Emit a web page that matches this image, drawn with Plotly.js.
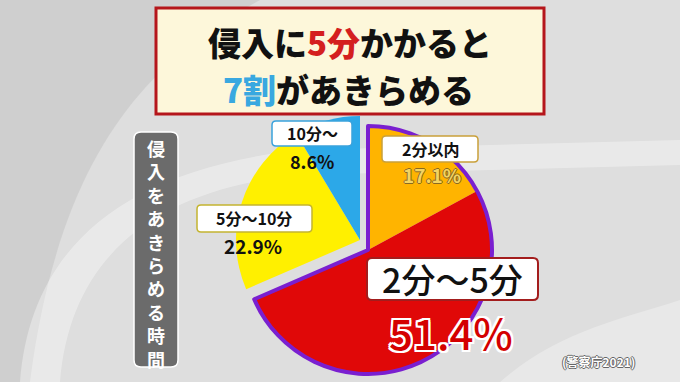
<!DOCTYPE html>
<html>
<head>
<meta charset="utf-8">
<script src="https://cdn.plot.ly/plotly-3.0.1.min.js"></script>
<style>
  html, body { margin: 0; padding: 0; background: #dedede; }
  #chart { width: 680px; height: 382px; }
</style>
</head>
<body>
<div id="chart"></div>
<script>
// ---- data ----
const categories = ['2分以内', '2分～5分', '5分～10分', '10分～'];
const values = [17.1, 51.4, 22.9, 8.6];
const percentLabels = ['17.1%', '51.4%', '22.9%', '8.6%'];
const titleLine1 = ['侵入に', '5分', 'かかると'];
const titleLine2 = ['7割', 'があきらめる'];
const sideLabel = '侵入をあきらめる時間';
const sourceLabel = '(警察庁2021)';

// ---- styles ----
const W = 680, H = 382;
const sliceColors = ['#ffb400', '#e00808', '#fff000', '#2ca8e8'];
const purple = '#7a1fd0';
const clear = 'rgba(0,0,0,0)';
const JP = '"Noto Sans CJK JP", "Noto Sans", sans-serif';

const X = v => v / W;
const Y = v => 1 - v / H;
function dom(cx, cy, r) {
  return { x: [X(cx - r), X(cx + r)], y: [Y(cy + r), Y(cy - r)] };
}
function rrect(x0, y0, x1, y1, r) {
  return 'M' + X(x0 + r) + ',' + Y(y0) +
    ' L' + X(x1 - r) + ',' + Y(y0) +
    ' Q' + X(x1) + ',' + Y(y0) + ' ' + X(x1) + ',' + Y(y0 + r) +
    ' L' + X(x1) + ',' + Y(y1 - r) +
    ' Q' + X(x1) + ',' + Y(y1) + ' ' + X(x1 - r) + ',' + Y(y1) +
    ' L' + X(x0 + r) + ',' + Y(y1) +
    ' Q' + X(x0) + ',' + Y(y1) + ' ' + X(x0) + ',' + Y(y1 - r) +
    ' L' + X(x0) + ',' + Y(y0 + r) +
    ' Q' + X(x0) + ',' + Y(y0) + ' ' + X(x0 + r) + ',' + Y(y0) + ' Z';
}
function pathPx(cmds) {
  return cmds.map(c => {
    const L = c[0]; const pts = [];
    for (let i = 1; i < c.length; i += 2) pts.push(X(c[i]) + ',' + Y(c[i + 1]));
    return L + pts.join(' ');
  }).join(' ') + ' Z';
}

const R = 124;
const centerRest = [360, 240];
const centerPulled = [368, 250];

const restSum = values[2] + values[3];
const pulledSum = values[0] + values[1];

const common = {
  type: 'pie', sort: false, direction: 'clockwise', rotation: 0,
  textinfo: 'none', hoverinfo: 'none', showlegend: false
};

const traceRest = Object.assign({}, common, {
  labels: ['_p', categories[2], categories[3]],
  values: [pulledSum, values[2], values[3]],
  marker: { colors: [clear, sliceColors[2], sliceColors[3]], line: { width: 0 } },
  domain: dom(centerRest[0], centerRest[1], R)
});
const tracePulled = Object.assign({}, common, {
  labels: [categories[0], categories[1], '_r'],
  values: [values[0], values[1], restSum],
  marker: { colors: [sliceColors[0], sliceColors[1], clear], line: { width: 0 } },
  domain: dom(centerPulled[0], centerPulled[1], R)
});
const traceOutline = Object.assign({}, common, {
  labels: ['_o1', '_o2'],
  values: [pulledSum, restSum],
  marker: { colors: [clear, clear], line: { color: [purple, clear], width: [4, 0] } },
  domain: dom(centerPulled[0], centerPulled[1], R)
});

const shapes = [
  // background swooshes
  { type: 'path', xref: 'paper', yref: 'paper', layer: 'below', line: { width: 0 },
    fillcolor: 'rgba(180,180,180,0.35)',
    path: pathPx([['M', 0, 0], ['L', 260, 0], ['C', 150, 60, 60, 150, 30, 382], ['L', 0, 382]]) },
  { type: 'path', xref: 'paper', yref: 'paper', layer: 'below', line: { width: 0 },
    fillcolor: 'rgba(255,255,255,0.35)',
    path: pathPx([['M', 20, 382], ['C', 30, 250, 120, 170, 300, 150], ['L', 680, 140], ['L', 680, 165], ['L', 300, 175], ['C', 150, 190, 70, 260, 60, 382]]) },
  { type: 'path', xref: 'paper', yref: 'paper', layer: 'below', line: { width: 0 },
    fillcolor: 'rgba(255,255,255,0.30)',
    path: pathPx([['M', 500, 382], ['C', 560, 330, 620, 320, 680, 300], ['L', 680, 382]]) },
  // title box
  { type: 'rect', xref: 'paper', yref: 'paper', layer: 'below',
    x0: X(156), x1: X(544), y0: Y(114), y1: Y(8),
    fillcolor: '#fdf7da', line: { color: '#b5161b', width: 3 } },
  // side label box
  { type: 'path', xref: 'paper', yref: 'paper', layer: 'below',
    path: rrect(134, 132, 178, 367, 7), fillcolor: '#6b6b6b', line: { color: '#ffffff', width: 1.5 } },
  // label boxes
  { type: 'path', xref: 'paper', yref: 'paper', layer: 'above',
    path: rrect(272, 121, 352, 146, 4), fillcolor: '#ffffff', line: { color: '#3aa2dc', width: 1.5 } },
  { type: 'path', xref: 'paper', yref: 'paper', layer: 'above',
    path: rrect(382, 136, 478, 162, 4), fillcolor: '#ffffff', line: { color: '#c9a03a', width: 1.5 } },
  { type: 'path', xref: 'paper', yref: 'paper', layer: 'above',
    path: rrect(197, 205, 312, 232, 4), fillcolor: '#ffffff', line: { color: '#c4b430', width: 1.5 } },
  { type: 'path', xref: 'paper', yref: 'paper', layer: 'above',
    path: rrect(367, 258, 538, 300, 5), fillcolor: '#ffffff', line: { color: '#a31d1d', width: 2 } }
];

function ann(text, x, y, size, color, weight, shadow) {
  const font = { family: JP, size: size, color: color, weight: weight || 700 };
  if (shadow) font.shadow = shadow;
  return {
    text: text, xref: 'paper', yref: 'paper', x: X(x), y: Y(y),
    xanchor: 'center', yanchor: 'middle', showarrow: false, font: font
  };
}

const whiteOutline = '2px 0 0 #fff, -2px 0 0 #fff, 0 2px 0 #fff, 0 -2px 0 #fff, 2px 2px 0 #fff, -2px -2px 0 #fff, 2px -2px 0 #fff, -2px 2px 0 #fff';
const brownOutline = '1px 0 0 #8a6a20, -1px 0 0 #8a6a20, 0 1px 0 #8a6a20, 0 -1px 0 #8a6a20';
const grayOutline = '1px 0 0 #666, -1px 0 0 #666, 0 1px 0 #666, 0 -1px 0 #666';

const annotations = [
  ann(titleLine1[0] + '<span style="color:#d41f1f">' + titleLine1[1] + '</span>' + titleLine1[2], 350, 42, 33, '#111', 900),
  ann('<span style="color:#39a8e0">' + titleLine2[0] + '</span>' + titleLine2[1], 349, 89, 33, '#111', 900),
  ann(categories[3], 312, 133, 16, '#111', 700),
  ann(percentLabels[3], 312, 161, 18, '#111', 700),
  ann(categories[0], 430, 149, 16, '#111', 700),
  ann(percentLabels[0], 432, 174, 19, '#f3d462', 700, brownOutline),
  ann(categories[2], 254, 218, 16, '#111', 700),
  ann(percentLabels[2], 253, 245, 19, '#111', 700),
  ann(categories[1], 452, 278, 34, '#111', 500),
  ann(percentLabels[1], 451, 331, 42, '#d40000', 500, whiteOutline),
  ann(sourceLabel, 598, 361, 12, '#ffffff', 700, grayOutline),
  ann(Array.from(sideLabel).join('<br>'), 156, 253, 18, '#ffffff', 700)
];

Plotly.newPlot('chart', [traceRest, tracePulled, traceOutline], {
  width: W, height: H,
  margin: { l: 0, r: 0, t: 0, b: 0 },
  paper_bgcolor: '#dedede',
  plot_bgcolor: '#dedede',
  shapes: shapes,
  annotations: annotations
}, { displayModeBar: false, staticPlot: true });
</script>
</body>
</html>
